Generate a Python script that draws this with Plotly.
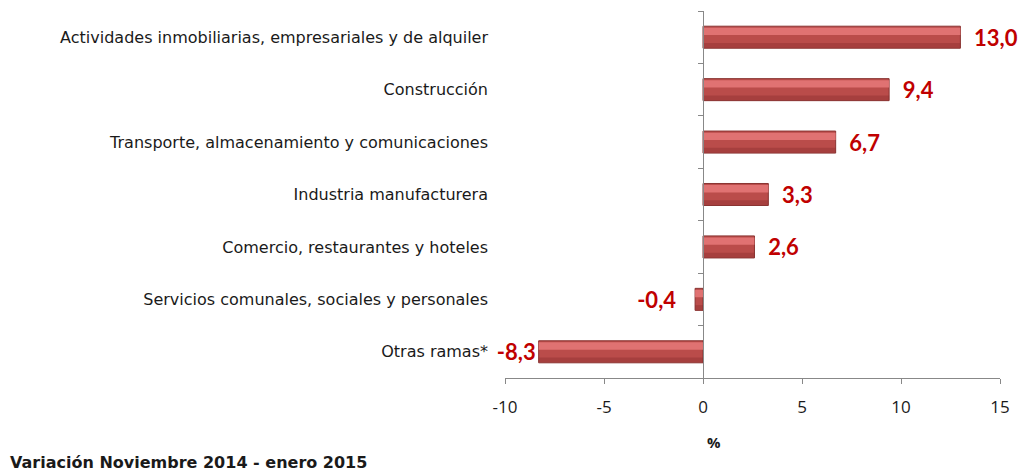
import plotly.graph_objects as go

categories = [
    "Actividades inmobiliarias, empresariales y de alquiler",
    "Construcción",
    "Transporte, almacenamiento y comunicaciones",
    "Industria manufacturera",
    "Comercio, restaurantes y hoteles",
    "Servicios comunales, sociales y personales",
    "Otras ramas*",
]
values = [13.0, 9.4, 6.7, 3.3, 2.6, -0.4, -8.3]
x_ticks = [-10, -5, 0, 5, 10, 15]
x_tick_text = ["-10", "-5", "0", "5", "10", "15"]
x_range = [-10, 15]

def fmt(v):
    s = f"{v:.1f}".replace(".", ",")
    return ("  " + s) if v > 0 else (s + ("   " if v > -1 else ""))

labels = [fmt(v) for v in values]

fig = go.Figure()
fig.add_trace(go.Bar(
    y=categories, x=values, orientation="h", width=0.42,
    marker=dict(color="#BA4C4A", line=dict(color="#8A3432", width=1)),
    text=labels, textposition="outside", constraintext="none", cliponaxis=False,
    textfont=dict(family="Lato", size=22, color="#C00000", weight="bold"),
    showlegend=False, hoverinfo="skip",
))
# lighter upper band (glossy look)
fig.add_trace(go.Bar(
    y=categories, x=values, orientation="h", width=0.14, offset=0.04,
    marker=dict(color="rgba(234,124,124,0.8)", line=dict(width=0)),
    showlegend=False, hoverinfo="skip",
))
# slightly darker lower band
fig.add_trace(go.Bar(
    y=categories, x=values, orientation="h", width=0.09, offset=-0.2,
    marker=dict(color="rgba(130,40,40,0.35)", line=dict(width=0)),
    showlegend=False, hoverinfo="skip",
))

# page body has an 8px margin; compensate so the plot area lands where the reference has it
l, r, t, b = 497, 35, 3, 100
W = 1027
pw = W - l - r
pos = (0 - x_range[0]) / (x_range[1] - x_range[0])

fig.update_layout(
    width=W, height=470, barmode="overlay",
    margin=dict(l=l, r=r, t=t, b=b),
    paper_bgcolor="white", plot_bgcolor="white",
    font=dict(family="Open Sans", color="#1a1a1a"),
    xaxis=dict(range=x_range, tickvals=x_ticks, ticktext=x_tick_text,
               showline=True, linecolor="#888888", linewidth=1,
               ticks="outside", tickcolor="#888888", ticklen=5,
               showgrid=False, zeroline=False,
               tickfont=dict(size=17, family="Open Sans", color="#1a1a1a"),
               ticklabelstandoff=9),
    yaxis=dict(categoryorder="array", categoryarray=categories[::-1],
               showline=False, showgrid=False, zeroline=False, ticks="",
               tickfont=dict(size=16, family="DejaVu Sans", color="#1a1a1a"),
               ticklabelstandoff=16),
    yaxis2=dict(overlaying="y", anchor="free", position=pos,
                range=[-0.5, len(categories) - 0.5],
                tickvals=[i - 0.5 for i in range(len(categories) + 1)],
                showticklabels=False, showline=True, linecolor="#888888", linewidth=1,
                ticks="outside", tickcolor="#888888", ticklen=5,
                showgrid=False, zeroline=False),
)
fig.add_trace(go.Scatter(x=[None], y=[None], yaxis="y2", showlegend=False))

# axis title "%" (placed slightly right of zero, as in the reference)
fig.add_annotation(text="<b>%</b>", xref="paper", yref="paper",
                   x=(706 - l) / pw, y=0, xanchor="center", yanchor="middle",
                   yshift=-64, showarrow=False,
                   font=dict(size=15, family="Open Sans", color="#1a1a1a"))

fig.add_annotation(text="<b>Variación Noviembre 2014 - enero 2015</b>",
                   xref="paper", yref="paper", x=(0 - l) / pw, y=0,
                   xanchor="left", yanchor="middle", yshift=-84, showarrow=False,
                   font=dict(size=16, family="DejaVu Sans", color="#1a1a1a"))

fig.write_html("out.html")
